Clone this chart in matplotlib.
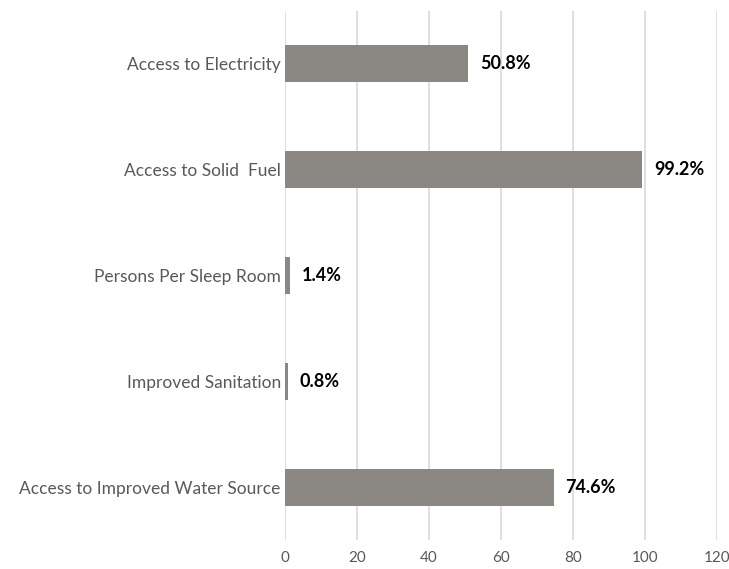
import numpy as np
import matplotlib.pyplot as plt

categories = ['Access to Electricity', 'Access to Solid  Fuel', 'Persons Per Sleep Room',
              'Improved Sanitation', 'Access to Improved Water Source']
values = [50.8, 99.2, 1.4, 0.8, 74.6]
xticks = [0, 20, 40, 60, 80, 100, 120]

plt.rcParams['font.family'] = ['Lato', 'DejaVu Sans']

fig = plt.figure(figsize=(7.29, 5.69), dpi=100)
ax = fig.add_axes([0.391, 0.051, 0.5925, 0.930])

y = np.arange(len(categories))
ax.barh(y, values, height=0.35, color='#8b8782', zorder=3)
for yi, v in zip(y, values):
    ax.text(v + 3.3, yi, '%.1f%%' % v, va='center', ha='left',
            fontsize=13, fontweight='bold', color='#000000', zorder=4)

ax.set_yticks(y)
ax.set_yticklabels(categories, fontsize=12.5, color='#595959')
ax.set_xticks(xticks)
ax.set_xticklabels([str(t) for t in xticks], fontsize=11, color='#595959')
ax.set_xlim(0, 120)
ax.set_ylim(len(categories) - 0.5, -0.5)
ax.xaxis.grid(True, color='#d9d9d9', linewidth=1.2, zorder=0)
ax.tick_params(axis='y', length=0, pad=3)
ax.tick_params(axis='x', length=0, pad=8)
for s in ax.spines.values():
    s.set_visible(False)

plt.savefig('out.png', dpi=100)
